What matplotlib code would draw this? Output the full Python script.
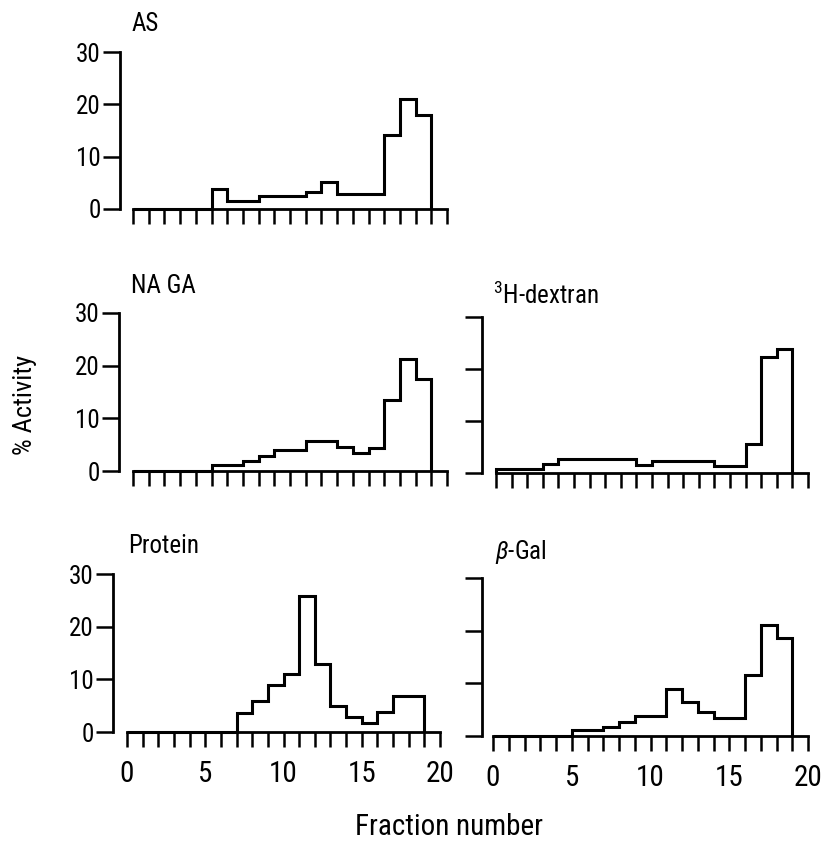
import numpy as np
import matplotlib
matplotlib.use('Agg')
import matplotlib.pyplot as plt

plt.rcParams['font.family'] = ['Roboto Condensed', 'Liberation Sans', 'DejaVu Sans']
plt.rcParams['mathtext.fontset'] = 'custom'
plt.rcParams['mathtext.rm'] = 'Roboto Condensed'
plt.rcParams['mathtext.it'] = 'Roboto Condensed:italic'

# % activity per fraction (bins 0-1, 1-2, ..., 18-19)
AS = [0, 0, 0, 0, 0, 3.8, 1.5, 1.5, 2.4, 2.4, 2.4, 3.2, 5.2, 2.9, 2.9, 2.9, 14.2, 21.1, 18.0]
NAGA = [0, 0, 0, 0, 0, 1.1, 1.1, 1.9, 2.8, 4.0, 4.0, 5.7, 5.7, 4.6, 3.5, 4.3, 13.5, 21.3, 17.5]
dextran = [0.8, 0.8, 0.8, 1.7, 2.6, 2.6, 2.6, 2.6, 2.6, 1.6, 2.4, 2.4, 2.4, 2.4, 1.3, 1.3, 5.6, 22.4, 23.8]
protein = [0, 0, 0, 0, 0, 0, 0, 3.7, 5.8, 9.0, 11.0, 25.8, 12.9, 4.9, 2.9, 1.8, 3.8, 6.8, 6.8]
bgal = [0, 0, 0, 0, 0, 1.1, 1.1, 1.7, 2.7, 3.8, 3.8, 8.9, 6.5, 4.6, 3.4, 3.4, 11.5, 21.1, 18.6]
edges = np.arange(0, 20)

W, H = 823, 846
fig = plt.figure(figsize=(W / 100, H / 100), dpi=100)

# (data, title, x0, x1, y0, y30, spine_x, title_x, title_y, ylabels, xlabels)
panels = [
    (AS, 'AS', 133, 447, 209, 52, 120, 132, 24, True, False),
    (NAGA, 'NA GA', 133, 447, 471, 313, 119, 131, 286, True, False),
    (dextran, r'$^3$H-dextran', 496, 808, 473, 317, 482, 493, 295, False, False),
    (protein, 'Protein', 127, 440, 732, 574, 113, 128, 546, True, True),
    (bgal, r'$\beta$-Gal', 493, 808, 736, 578, 482, 495, 552, False, True),
]

for vals, title, x0, x1, y0, y30, sx, tx, ty, ylab, xlab in panels:
    ax = fig.add_axes([x0 / W, 1 - y0 / H, (x1 - x0) / W, (y0 - y30) / H])
    ax.stairs(vals, edges, baseline=0, color='k', lw=2.2, clip_on=False)
    ax.set_xlim(0, 20)
    ax.set_ylim(0, 30)
    for s in ['top', 'right']:
        ax.spines[s].set_visible(False)
    ax.spines['left'].set_position(('outward', (x0 - sx) * 0.72))
    ax.spines['left'].set_linewidth(2.0)
    ax.spines['bottom'].set_linewidth(2.0)
    ax.set_xticks([0, 5, 10, 15, 20])
    ax.set_xticks(np.arange(0, 21), minor=True)
    ax.set_yticks([0, 10, 20, 30])
    ax.tick_params(axis='x', which='both', direction='out', length=11, width=1.8,
                   pad=9, labelsize=21, labelbottom=xlab)
    ax.tick_params(axis='y', direction='out', length=12, width=1.8, pad=2,
                   labelsize=18, labelleft=ylab)
    fig.text(tx / W, 1 - ty / H, title, fontsize=18, ha='left', va='center')

fig.text(25 / W, 1 - 405 / H, '% Activity', fontsize=19, rotation=90,
         ha='center', va='center')
fig.text(449 / W, 1 - 827 / H, 'Fraction number', fontsize=21,
         ha='center', va='center')

fig.savefig('out.png', dpi=100)
